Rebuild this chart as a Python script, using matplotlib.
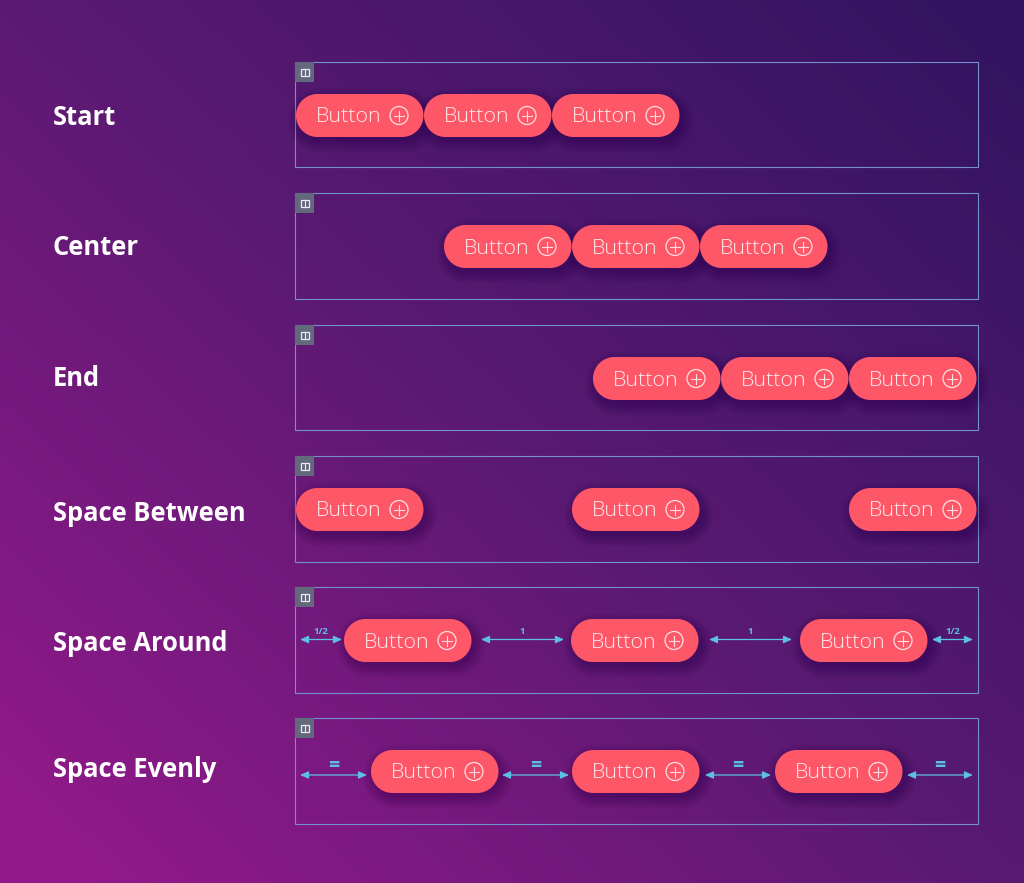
import numpy as np
import matplotlib
matplotlib.use("Agg")
import matplotlib.pyplot as plt
from matplotlib.patches import Polygon, Rectangle, Circle
from matplotlib.colors import LinearSegmentedColormap

row_labels = ["Start", "Center", "End", "Space Between", "Space Around", "Space Evenly"]
label_y = [115, 245, 376, 511, 641, 767]
box_top = [62, 193, 325, 456, 587, 718]
box_bottom = [167, 299, 430, 562, 693, 824]
button_top = [94, 225, 357, 488, 619, 750]
button_left = [
    [296, 424, 552],
    [444, 572, 700],
    [593, 721, 849],
    [296, 572, 849],
    [344, 571, 800],
    [371, 572, 775],
]
gap_row = [4, 4, 4, 4, 5, 5, 5, 5]
gap_start = [300, 481, 709, 932, 300, 502, 705, 907]
gap_end = [342, 564, 792, 973, 367, 569, 771, 973]
gap_label = ["1/2", "1", "1", "1/2", "=", "=", "=", "="]
gap_y = [639.5, 775]

W, H = 1024, 883
BW, BH = 127.5, 43
box_left, box_right = 295, 978

fig = plt.figure(figsize=(W / 100, H / 100), dpi=100)
ax = fig.add_axes([0, 0, 1, 1])
ax.set_xlim(0, W)
ax.set_ylim(H, 0)
ax.axis("off")

cmap = LinearSegmentedColormap.from_list("bg", ["#341460", "#5a1a72", "#92198a"])
yy, xx = np.mgrid[0:1:220j, 0:1:256j]
grad = np.clip(((1 - xx) * 0.56 + yy * 0.52) - 0.04, 0, 1)
ax.imshow(grad, extent=[0, W, H, 0], cmap=cmap, aspect="auto", zorder=0, vmin=0, vmax=1)


def pill(x, y, w, h, **kw):
    r = h / 2
    t = np.linspace(-np.pi / 2, np.pi / 2, 40)
    right = np.column_stack([x + w - r + r * np.cos(t), y + r + r * np.sin(t)])
    left = np.column_stack([x + r - r * np.cos(t), y + r - r * np.sin(t)])
    return Polygon(np.vstack([right, left]), closed=True, **kw)


for i, name in enumerate(row_labels):
    ax.text(53, label_y[i] - 0.5, name, color="white", fontsize=18.4, fontweight="bold",
            family="Open Sans", va="center_baseline", ha="left", zorder=5)
    ax.add_patch(Rectangle((box_left, box_top[i]), box_right - box_left,
                           box_bottom[i] - box_top[i], fill=False,
                           ec="#7390d0", lw=0.8, zorder=2))
    ax.add_patch(Rectangle((295, box_top[i]), 19, 20, fc="#63697c", ec="none", zorder=3))
    ax.add_patch(Rectangle((301, box_top[i] + 6.5), 8, 7.5, fill=False, ec="#f3e6f6", lw=0.9, zorder=4))
    ax.plot([305, 305], [box_top[i] + 6.5, box_top[i] + 14], color="#f3e6f6", lw=0.8, zorder=4)
    for x in button_left[i]:
        y = button_top[i]
        for grow in range(11, -2, -1):
            ax.add_patch(pill(x + 3 - grow, y + 5 - grow, BW + 2 * grow, BH + 2 * grow,
                              fc="#1e0a40", ec="none", alpha=0.022, zorder=3))
        ax.add_patch(pill(x, y, BW, BH, fc="#fe5768", ec="none", zorder=4))
        ax.text(x + 52.5, y + 21, "Button", color="#ffe9ec", fontsize=15.4, fontweight="light",
                family="Open Sans", va="center_baseline", ha="center", zorder=5)
        cx, cy = x + 103, y + 21.5
        ax.add_patch(Circle((cx, cy), 9, fill=False, ec="#ffdfe3", lw=0.9, zorder=5))
        ax.plot([cx - 5, cx + 5], [cy, cy], color="#ffdfe3", lw=0.8, zorder=5)
        ax.plot([cx, cx], [cy - 5, cy + 5], color="#ffdfe3", lw=0.8, zorder=5)

for r, a, b, t in zip(gap_row, gap_start, gap_end, gap_label):
    y = gap_y[r - 4]
    ax.annotate("", xy=(b, y), xytext=(a, y), zorder=6,
                arrowprops=dict(arrowstyle="<|-|>,head_length=0.5,head_width=0.22",
                                color="#5cc0e4", lw=0.9, shrinkA=0, shrinkB=0))
    big = t == "="
    ax.text((a + b) / 2, y - (9 if big else 8), t, color="#5cc0e4", fontweight="bold",
            fontsize=14 if big else 6.8, family="Open Sans", ha="center", va="center", zorder=6)

fig.savefig("out.png", dpi=100)
